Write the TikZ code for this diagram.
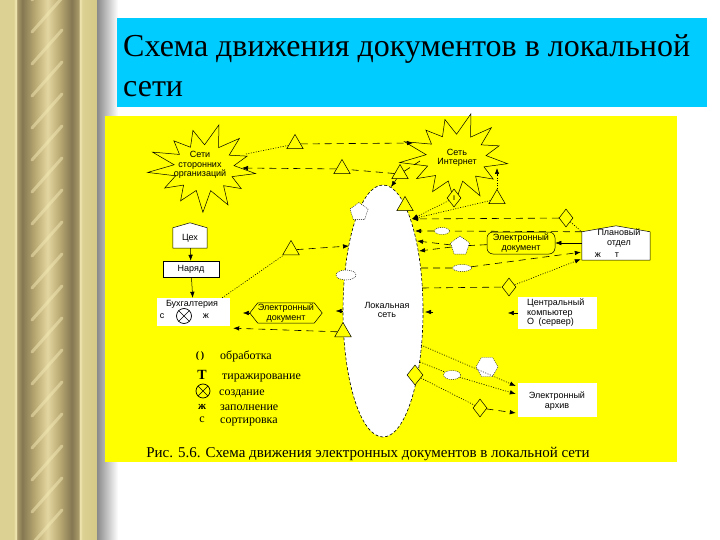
\documentclass[tikz,border=0pt]{standalone}
\usepackage{fontspec}
\setmainfont{Liberation Serif}
\setsansfont{Liberation Sans}
\usetikzlibrary{shapes.geometric,arrows.meta,calc}
\definecolor{pL}{HTML}{DCD092}
\definecolor{pL2}{HTML}{D6CA88}
\definecolor{pP}{HTML}{F2E8B4}
\definecolor{pM}{HTML}{A89A68}
\definecolor{pD}{HTML}{857852}
\definecolor{pM2}{HTML}{B8A872}
\definecolor{pG}{HTML}{E4D6A0}
\definecolor{pS}{HTML}{8A8A8A}
\definecolor{ttlcyan}{HTML}{00CCFF}
\definecolor{ylw}{HTML}{FFFF00}
\pgfdeclarehorizontalshading{pillar}{100bp}{color(0bp)=(pL); color(25bp)=(pL); color(32bp)=(pL); color(33.2bp)=(pP); color(33.9bp)=(pM); color(36.5bp)=(pD); color(43bp)=(pM2); color(49.5bp)=(pG); color(56bp)=(pM2); color(62bp)=(pD); color(65.5bp)=(pM); color(66.3bp)=(pP); color(67.5bp)=(pL); color(75bp)=(pL2); color(100bp)=(pL2)}
\newcommand\dfont{\sffamily\fontsize{9}{9.5}\selectfont}
\newcommand\starpath[4]{%
  \draw[line width=0.5pt, fill=ylw] plot[variable=\k, samples at={0,...,25}]
   ({#1+(1-0.42*mod(\k,2)+0.12*sin(\k*131)*(1-mod(\k,2)))*#3*cos(8+\k*180/13)},
    {#2+(1-0.42*mod(\k,2)+0.12*sin(\k*131)*(1-mod(\k,2)))*#4*sin(8+\k*180/13)}) -- cycle;}
\tikzset{
  dtext/.style={font=\dfont, align=center, inner sep=0},
  tri/.style={regular polygon, regular polygon sides=3, draw, fill=ylw, minimum size=19, inner sep=0, line width=0.5pt},
  dia/.style={diamond, draw, fill=ylw, minimum width=14, minimum height=18, inner sep=0, line width=0.5pt},
  wpill/.style={ellipse, fill=white, draw, dash pattern=on 1pt off 1pt, line width=0.4pt, inner sep=0},
  wpoly/.style={regular polygon, fill=white, draw, dash pattern=on 1pt off 1pt, line width=0.4pt, inner sep=0},
  dashl/.style={line width=0.6pt, dash pattern=on 7pt off 5pt},
  dotl/.style={line width=0.6pt, dash pattern=on 1pt off 1.5pt},
  solidl/.style={line width=0.5pt},
  arr/.style={-{Latex[length=6pt,width=4.5pt]}},
  leg/.style={font=\fontsize{12}{13}\selectfont, inner sep=0},
  otimes/.style={circle, draw, line width=0.7pt, inner sep=0, path picture={
     \draw[line width=0.7pt] (path picture bounding box.north west) -- (path picture bounding box.south east)
       (path picture bounding box.north east) -- (path picture bounding box.south west);}},
}
\begin{document}
\begin{tikzpicture}[x=1pt, y=-1pt]
\useasboundingbox (0,0) rectangle (720,540);
\fill[white] (0,0) rectangle (720,540);
% pillar and shadow
\shade[shading=pillar] (0,0) rectangle (97,540);
\begin{scope}
  \clip (20,0) rectangle (78,540);
  \foreach \yy in {0,32,...,576} \draw[pP, line width=3pt, opacity=0.5, line cap=round] (32,\yy) -- (62,\yy-34);
\end{scope}
\shade[left color=pS, right color=white] (97,0) rectangle (118,540);
% title
\fill[ttlcyan] (117,18) rectangle (707,107);
\node[anchor=base west, inner sep=0, font=\fontsize{32}{40}\selectfont] (title1) at (123,57) {Схема движения документов в локальной};
\node[anchor=base west, inner sep=0, font=\fontsize{32}{40}\selectfont] (title2) at (123,97) {сети};
% yellow panel
\fill[ylw] (105,116) rectangle (677,462);

% stars
\starpath{204}{168}{52}{40}
\node[ellipse, minimum width=90, minimum height=64, inner sep=0] (starA) at (204,168) {};
\node[dtext] (starAt) at (200,165) {Сети\\сторонних\\организаций};
\starpath{456}{158}{52}{41}
\node[ellipse, minimum width=90, minimum height=66, inner sep=0] (starB) at (456,158) {};
\node[dtext] (starBt) at (457,158) {Сеть\\Интернет};

% local network
\node[ellipse, draw, fill=white, dash pattern=on 3pt off 2pt, line width=0.6pt, minimum width=80, minimum height=252, inner sep=0] (lan) at (383,311) {};
\node[wpoly, regular polygon sides=5, minimum size=19] (pentL) at (359,212) {};
\node[wpill, minimum width=20, minimum height=10] (hexL) at (346,275) {};
\node[dtext] (lant) at (387,310) {Локальная\\сеть};
\coordinate (eT) at (391,187);
\coordinate (eA) at (412,219);
\coordinate (eB) at (415,231);
\coordinate (eC) at (417,241);
\coordinate (eD) at (419,251);
\coordinate (eE) at (421,268);
\coordinate (eF) at (422,288);
\coordinate (eR) at (433,312);
\coordinate (eG) at (421,345);
\coordinate (eH) at (420,362);
\coordinate (eL) at (349,246);

% triangles, diamonds
\node[tri] (t1) at (295,144) {};
\node[tri] (t2) at (342,169) {};
\node[tri] (t3) at (400,174) {};
\node[tri] (t4) at (405,206) {};
\node[tri] (t5) at (497,199) {};
\node[tri] (t6) at (291,250) {};
\node[tri] (t7) at (343,332) {};
\node[dia, font=\dfont] (d1) at (454,198) {ı};
\node[dia] (d2) at (566,218) {};
\node[dia] (d3) at (509,287) {};
\node[dia, minimum width=16, minimum height=20] (d4) at (415,375) {};
\node[dia] (d5) at (480,408) {};
\node[wpill, minimum width=15, minimum height=7] (pill1) at (442,231) {};
\node[wpoly, regular polygon sides=5, minimum size=20] (pent1) at (460,246) {};
\node[wpill, minimum width=19, minimum height=7] (pill2) at (462,268) {};
\node[wpill, minimum width=17, minimum height=9] (pill3) at (452,375) {};
\node[wpoly, regular polygon sides=6, minimum size=22] (hex1) at (487,367) {};

% boxes left
\node[fill=white, minimum width=34, minimum height=20, inner sep=0, font=\dfont] (ceh) at (190,238) {Цех};
\fill[white] (ceh.north west) -- ($(ceh.north)+(0,-5)$) -- (ceh.north east) -- cycle;
\draw[solidl] (ceh.south west) -- (ceh.north west) -- ($(ceh.north)+(0,-5)$) -- (ceh.north east) -- (ceh.south east) -- cycle;
\node[draw, solidl, fill=white, minimum width=56, minimum height=16, inner sep=0, font=\dfont] (naryad) at (191,269) {Наряд};
\node[fill=white, minimum width=73, minimum height=28, inner sep=0] (buh) at (193.5,312) {};
\node[dtext] (buht) at (192,304) {Бухгалтерия};
\node[dtext] (buhc) at (162,316) {с};
\node[otimes, minimum size=15] (buhx) at (184,316) {};
\node[dtext] (buhz) at (206,316) {ж};
\node[dtext, minimum width=72, minimum height=20] (edoc1) at (286,313) {Электронный\\документ};
\draw[solidl] (edoc1.west) -- ($(edoc1.north west)+(8,0)$) -- ($(edoc1.north east)+(-8,0)$) -- (edoc1.east) -- ($(edoc1.south east)+(-8,0)$) -- ($(edoc1.south west)+(8,0)$) -- cycle;

% boxes right
\node[draw, solidl, rounded corners=6, minimum width=68, minimum height=22, dtext] (edoc2) at (521,243) {Электронный\\документ};
\node[fill=white, minimum width=68, minimum height=28, inner sep=0] (plan) at (616,246) {};
\fill[white] (plan.north west) -- ($(plan.north)+(0,-6)$) -- (plan.north east) -- cycle;
\draw[solidl] (plan.south west) -- (plan.north west) -- ($(plan.north)+(0,-6)$) -- (plan.north east) -- (plan.south east) -- cycle;
\node[dtext] (plant) at (619,238) {Плановый\\отдел};
\node[dtext] (planz) at (598,255) {ж};
\node[dtext] (plant2) at (617,255) {т};
\node[fill=white, minimum width=79, minimum height=32, inner sep=0] (server) at (557.5,313) {};
\node[dtext, align=left, anchor=north west] (servt) at (527,299) {Центральный\\компьютер\\О\enspace(сервер)};
\node[fill=white, minimum width=79, minimum height=34, inner sep=0] (archive) at (557.5,400) {};
\node[dtext] (archt) at (557,401) {Электронный\\архив};

% connectors: top
\draw[dotl] ($(starA)+(42,-14)$) -- (t1);
\draw[dashl, arr] (t1) -- ($(starB)+(-43,-15)$);
\draw[dashl] ($(starB)+(-36,3)$) -- (t3);
\draw[dashl] (t3) -- (t2);
\draw[dashl, arr] (t2) -- ($(starA)+(38,0)$);
\draw[solidl, arr] (t3) -- (eT);
\draw[dotl, arr] (t5) -- ($(starB)+(41,10)$);
\draw[dotl, arr] (d1) -- (eA);
\draw[dotl, arr] (t5) -- (eA);
\draw[dashl, arr] (d2) -- (eA);
\draw[dotl] (d2) -- (plan.north west);
\draw[dashl, arr] (plan.north west) -- (pill1) -- (eB);
\draw[dashl, arr] (edoc2) -- (pent1) -- (eC);
\draw[dashl, arr] (pent1) -- (eD);
\draw[solidl, arr] (plan.west |- edoc2.east) -- (edoc2.east);
\draw[dashl, arr] (eE) -- (pill2) -- ($(plan.south west)+(-1,-8)$);
\draw[dashl] (eF) -- (d3);
\draw[dotl, arr] (d3) -- ($(plan.south west)+(-1,-1)$);
% stubs
\draw[solidl, arr] (server.west) -- ++(-10,0);
\draw[solidl, arr] (eR) -- ++(-8,0);
\draw[solidl, arr] (lan.west) -- ++(-7,0);
\draw[solidl, arr] (edoc1.west) -- ++(-7,0);
% left
\draw[solidl, arr] (ceh) -- (naryad);
\draw[solidl, arr] (naryad) -- (buh);
\draw[dotl] ($(buh.north east)+(-8,0)$) -- (t6);
\draw[dashl, arr] (t6) -- (eL);
\draw[dashl, arr] (t7) -- ($(buh.south east)+(3,2)$);
% bottom
\draw[dotl, arr] (eG) -- ($(archive.west)+(-2,-14)$);
\draw[dotl, arr] (eH) -- (pill3) -- ($(archive.west)+(-2,-6)$);
\draw[dotl] (d4) -- (d5);
\draw[dashl, arr] (d5) -- ($(archive.west)+(-2,13)$);

% legend
\node[leg, font=\bfseries\fontsize{10}{11}\selectfont] (s1) at (200,356) {(\,)};
\node[leg, anchor=base west] (l1) at (220,359) {обработка};
\node[leg, font=\bfseries\fontsize{14}{14}\selectfont] (s2) at (202,375) {T};
\node[leg, anchor=base west] (l2) at (222,379) {тиражирование};
\node[otimes, minimum size=14] (s3) at (203,391) {};
\node[leg, anchor=base west] (l3) at (219,395) {создание};
\node[leg, font=\bfseries\fontsize{11}{11}\selectfont] (s4) at (202,407) {ж};
\node[leg, anchor=base west] (l4) at (220,410) {заполнение};
\node[leg] (s5) at (202,420) {с};
\node[leg, anchor=base west] (l5) at (220,423) {сортировка};
% caption
\node[anchor=base, inner sep=0, font=\fontsize{15}{16}\selectfont] (cap) at (368,457) {Рис. 5.6. Схема движения электронных документов в локальной сети};
\end{tikzpicture}
\end{document}
